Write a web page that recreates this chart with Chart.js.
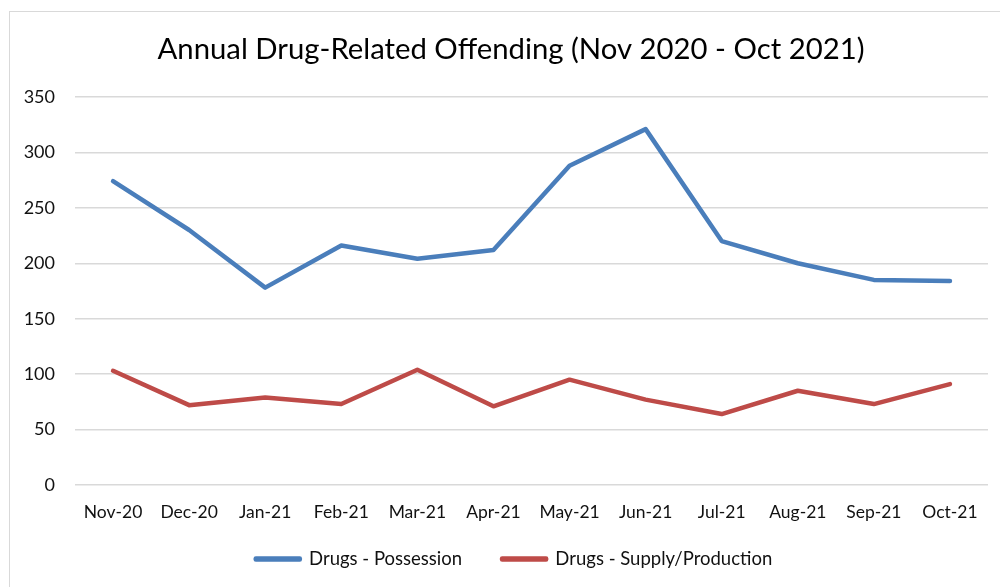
<!DOCTYPE html>
<html>
<head>
<meta charset="utf-8">
<script src="https://cdn.jsdelivr.net/npm/chart.js@4"></script>
<style>
  html, body { margin: 0; padding: 0; background: #ffffff; }
  #wrap { position: relative; width: 1000px; height: 587px; overflow: hidden; }
  #frame { position: absolute; left: 9px; top: 11px; width: 1100px; height: 700px; border: 1.5px solid #d9d9d9; box-sizing: border-box; }
  canvas { position: absolute; left: 0; top: 0; }
</style>
</head>
<body>
<div id="wrap">
  <div id="frame"></div>
  <canvas id="c" width="1000" height="587"></canvas>
</div>
<script>
const chartTitle = "Annual Drug-Related Offending (Nov 2020 - Oct 2021)";
const categories = ["Nov-20","Dec-20","Jan-21","Feb-21","Mar-21","Apr-21","May-21","Jun-21","Jul-21","Aug-21","Sep-21","Oct-21"];
const possessionLabel = "Drugs - Possession";
const possession = [274, 230, 178, 216, 204, 212, 288, 321, 220, 200, 185, 184];
const supplyLabel = "Drugs - Supply/Production";
const supply = [103, 72, 79, 73, 104, 71, 95, 77, 64, 85, 73, 91];
const yMin = 0, yMax = 350, yStep = 50;

const FONT = "Lato, 'Open Sans', sans-serif";
const TEXT = "#111111";
const TITLE_SHIFT = 17;     // title centred on the outer frame, not the canvas
const LEGEND_SHIFT = 20;
const LEGEND_FONT = 18.5;
const LEGEND_PAD = 40;
const LEGEND_CENTER_Y = 559;

const placeBlocks = {
  id: "placeBlocks",
  afterLayout(chart) {
    const t = chart.titleBlock;
    if (t) { t.left += TITLE_SHIFT; t.right += TITLE_SHIFT; }
    const l = chart.legend;
    if (l) {
      l.left += LEGEND_SHIFT; l.right += LEGEND_SHIFT;
      l.top = LEGEND_CENTER_Y - LEGEND_PAD - LEGEND_FONT / 2;
      l.bottom = chart.height;
      l.height = l.bottom - l.top;
    }
  }
};

new Chart(document.getElementById("c"), {
  type: "line",
  data: {
    labels: categories,
    datasets: [
      { label: possessionLabel, data: possession, borderColor: "#4a7ebb", backgroundColor: "#4a7ebb",
        borderWidth: 4.5, pointRadius: 0, pointHoverRadius: 0, tension: 0, borderCapStyle: "round", borderJoinStyle: "round" },
      { label: supplyLabel, data: supply, borderColor: "#be4b48", backgroundColor: "#be4b48",
        borderWidth: 4.5, pointRadius: 0, pointHoverRadius: 0, tension: 0, borderCapStyle: "round", borderJoinStyle: "round" }
    ]
  },
  plugins: [placeBlocks],
  options: {
    responsive: false,
    animation: false,
    devicePixelRatio: 1,
    layout: { padding: { left: 0, right: 12, top: 0, bottom: 0 } },
    plugins: {
      title: { display: true, text: chartTitle, color: "#000000",
        font: { family: FONT, size: 29.3, weight: "normal", lineHeight: 1.2 },
        padding: { top: 32, bottom: 29.8 } },
      legend: { position: "bottom", maxHeight: 30,
        labels: { color: TEXT, font: { family: FONT, size: LEGEND_FONT }, boxWidth: 44, boxHeight: 1, padding: LEGEND_PAD } },
      tooltip: { enabled: false }
    },
    scales: {
      x: {
        offset: true,
        grid: { display: false, drawTicks: false },
        border: { display: false },
        ticks: { color: TEXT, font: { family: FONT, size: 17.5 }, padding: 17, maxRotation: 0, autoSkip: false },
        afterFit: s => { s.height = 72; }
      },
      y: {
        min: yMin, max: yMax,
        grid: { color: "#d9d9d9", lineWidth: 1.5, drawTicks: false },
        border: { display: false },
        ticks: { stepSize: yStep, color: TEXT, font: { family: FONT, size: 18 }, padding: 20 },
        afterFit: s => { s.width = 75; }
      }
    }
  }
});
</script>
</body>
</html>
